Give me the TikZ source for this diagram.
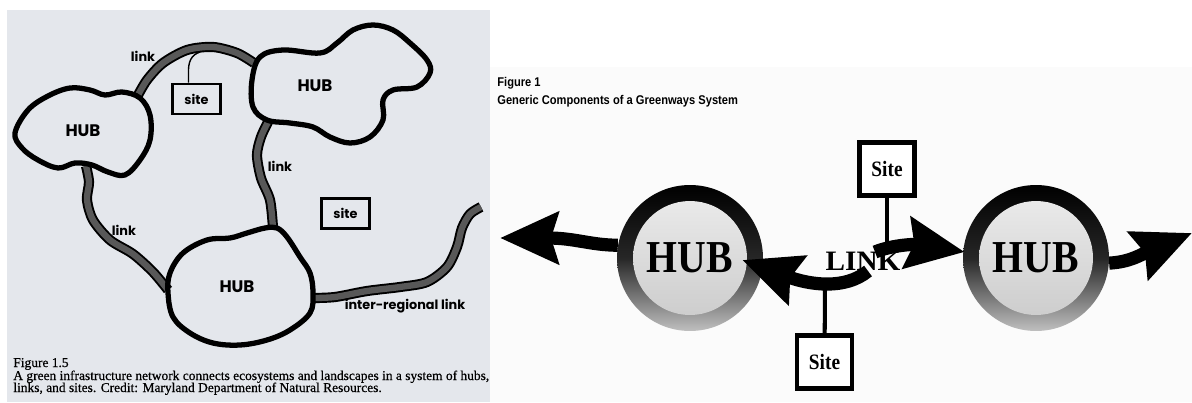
\documentclass[tikz,border=0pt]{standalone}
\usepackage{fontspec}
\usepackage{xcolor}
\usepackage{graphicx}
\usepackage{tikz}
\usetikzlibrary{arrows.meta,backgrounds}
\setmainfont{Liberation Serif}
\newfontfamily\capserif{Liberation Serif}[FakeBold=0.6]
\newfontfamily\geofont{Poppins}
\newfontfamily\capsans{Liberation Sans}
\definecolor{scanbg}{RGB}{228,231,236}
\definecolor{linkgray}{RGB}{88,88,88}

\begin{document}
\begin{tikzpicture}[x=0.02cm, y=-0.02cm,
    hubline/.style={line width=3pt, line join=round},
    linkline/.style={line width=1.1pt, double=linkgray, double distance=3.6pt},
    thinlink/.style={line width=0.8pt},
    geolabel/.style={inner sep=0pt, font=\geofont\bfseries\fontsize{7.3}{8}\selectfont},
    geohub/.style={inner sep=0pt, font=\geofont\bfseries\fontsize{9.5}{10}\selectfont},
    sitebox/.style={draw, line width=1.7pt, minimum width=0.96cm, minimum height=0.6cm, inner sep=0pt, font=\geofont\bfseries\fontsize{7.3}{8}\selectfont},
    captext/.style={anchor=base west, inner sep=0pt, font=\capserif\fontsize{7.65}{8}\selectfont},
    figtext/.style={anchor=base west, inner sep=0pt, font=\capsans\bfseries\fontsize{7.2}{8}\selectfont},
    hubdisc/.style={circle, minimum size=2.92cm, inner sep=0pt, top color=black, bottom color=gray!50, middle color=black!85,
        font=\bfseries\fontsize{26}{26}\selectfont,
        path picture={\shade[top color=gray!14, bottom color=gray!42] (path picture bounding box.center) circle (1.14cm);}},
    bigarrow/.style={line width=7.5pt, -{Stealth[length=33pt, width=29pt, inset=4pt]}},
    sitecard/.style={draw, line width=2.8pt, fill=white, minimum width=1.1cm, minimum height=1.06cm, inner sep=0pt,
        font=\bfseries\fontsize{12.5}{13}\selectfont},
    siteline/.style={line width=2.3pt}]

    \useasboundingbox (0,0) rectangle (1192,402);
    \begin{pgfonlayer}{background}
        \fill[scanbg] (7,10) rectangle (490,402);
        \fill[gray!3] (490,67) rectangle (1192,402);
    \end{pgfonlayer}

    \coordinate (hubA-top) at (137,97);
    \coordinate (hubA-south) at (86,166);
    \coordinate (hubB-west) at (254,63);
    \coordinate (hubB-south) at (268,122);
    \coordinate (hubC-north) at (273,228);
    \coordinate (hubC-west) at (168,290);
    \coordinate (hubC-east) at (313,298);
    \coordinate (interend) at (481,207);
    \coordinate (sitejoin) at (200,52);

    \draw[linkline] plot[smooth] coordinates {(hubA-top) (147,80) (163,63) (187,50) (213,47) (237,53) (hubB-west)};
    \draw[linkline] plot[smooth] coordinates {(hubB-south) (261,137) (257,155) (261,178) (270,200) (hubC-north)};
    \draw[linkline] plot[smooth] coordinates {(hubA-south) (89,182) (87,200) (93,220) (110,240) (133,254) (153,272) (hubC-west)};
    \draw[linkline] plot[smooth] coordinates {(hubC-east) (335,297) (367,291) (400,287) (427,282) (447,267) (457,247) (462,228) (470,214) (interend)};

    \draw[hubline] plot[smooth cycle, tension=0.6] coordinates {(15,133) (28,110) (48,96) (70,88) (90,90) (105,95) (122,92) (140,98) (150,115) (150,140) (140,160) (125,175) (108,172) (92,165) (75,163) (58,168) (38,160) (22,148)};
    \draw[hubline] plot[smooth cycle, tension=0.6] coordinates {(253,107) (252,80) (260,57) (283,50) (320,53) (337,43) (353,30) (373,25) (393,30) (410,43) (427,60) (430,73) (417,87) (393,90) (383,100) (383,120) (370,137) (350,143) (330,137) (313,127) (290,123) (267,120)};
    \draw[hubline] plot[smooth cycle, tension=0.6] coordinates {(277,228) (265,228) (247,233) (230,238) (207,240) (183,253) (170,273) (168,293) (173,317) (190,333) (213,343) (240,345) (267,340) (290,330) (310,313) (313,293) (310,273) (300,257) (287,237)};

    \node[geohub] (hubA) at (83,131) {HUB};
    \node[geohub] (hubB) at (315,86) {HUB};
    \node[geohub] (hubC) at (237,287) {HUB};

    \node[sitebox] (site1) at (196.5,99) {site};
    \node[sitebox] (site2) at (345.5,213.5) {site};
    \draw[thinlink] ([xshift=-0.16cm]site1.north) -- ++(0,-9) .. controls (188,62) and (191,55) .. (sitejoin);

    \node[geolabel] (link1) at (143,56) {link};
    \node[geolabel] (link2) at (280,166) {link};
    \node[geolabel] (link3) at (124,230) {link};
    \node[geolabel] (link4) at (405,306) {inter-regional link};

    \node[captext] (fig15) at (13,367) {Figure 1.5};
    \node[captext] (cap15a) at (13,380) {A green infrastructure network connects ecosystems and landscapes in a system of hubs,};
    \node[captext] (cap15b) at (13,392) {links, and sites. Credit: Maryland Department of Natural Resources.};

    \node[figtext] (fig1) at (497,87) {\scalebox{0.88}[1]{Figure 1}};
    \node[figtext] (fig1title) at (497,105) {\scalebox{0.88}[1]{Generic Components of a Greenways System}};

    \node[hubdisc] (hubL) at (690,258) {\scalebox{0.87}[1]{HUB}};
    \node[hubdisc] (hubR) at (1036,258) {\scalebox{0.87}[1]{HUB}};

    \coordinate (tipW) at (500,238);
    \coordinate (tipE) at (1192,233);
    \begin{pgfonlayer}{background}
        \draw[bigarrow] (hubL.170) .. controls (590,245) and (575,238) .. (tipW);
        \draw[bigarrow] (hubR.-4) .. controls (1130,262) and (1140,255) .. (tipE);
    \end{pgfonlayer}

    \coordinate (linkL) at (868,271);
    \coordinate (linkR) at (875,252);
    \coordinate (joinT) at (887,246);
    \coordinate (joinB) at (825,286);

    \node[sitecard] (siteT) at (887,169) {\scalebox{0.88}[1]{Site}};
    \node[sitecard] (siteB) at (824.5,362) {\scalebox{0.88}[1]{Site}};
    \draw[siteline] (siteT) -- (joinT);
    \draw[siteline] (siteB) -- (joinB);

    \draw[bigarrow] (linkL) .. controls (845,290) and (810,285) .. ([xshift=-0.42cm, yshift=-0.04cm]hubL.east);
    \draw[bigarrow] (linkR) .. controls (892,245) and (915,244) .. ([xshift=0.04cm, yshift=0.12cm]hubR.west);

    \node[anchor=base, inner sep=0pt, font=\bfseries\fontsize{16}{16}\selectfont] (link) at (863,270) {\scalebox{1.04}[1]{LINK}};
\end{tikzpicture}
\end{document}
